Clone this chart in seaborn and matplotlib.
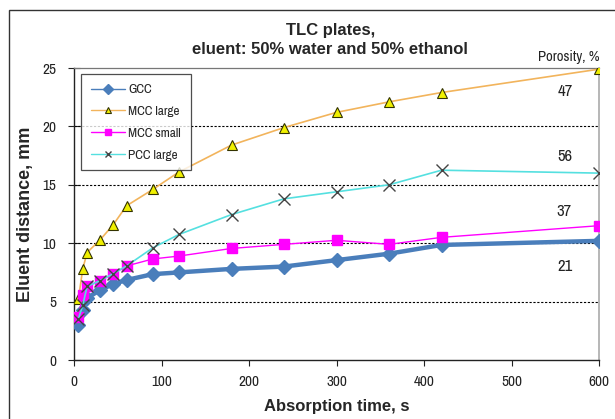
import matplotlib
matplotlib.use("Agg")
import matplotlib.pyplot as plt
import seaborn as sns
import pandas as pd
from matplotlib.patches import Rectangle

# Absorption times (s) and eluent distances (mm) for each plate type
time_s = [5, 10, 15, 30, 45, 60, 90, 120, 180, 240, 300, 360, 420, 600]
gcc = [3.0, 4.3, 5.3, 6.0, 6.5, 6.85, 7.35, 7.5, 7.8, 8.0, 8.55, 9.1, 9.85, 10.2]
mcc_large = [5.2, 7.8, 9.2, 10.3, 11.6, 13.2, 14.6, 16.1, 18.4, 19.9, 21.2, 22.1, 22.9, 24.9]
mcc_small = [3.7, 5.6, 6.3, 6.8, 7.4, 8.05, 8.65, 8.9, 9.55, 9.9, 10.25, 9.9, 10.5, 11.5]
pcc_large = [3.5, 4.7, 6.3, 6.8, 7.4, 8.05, 9.6, 10.75, 12.45, 13.8, 14.4, 15.0, 16.25, 16.0]

series_names = ["GCC", "MCC large", "MCC small", "PCC large"]
porosity_labels = ["21", "47", "37", "56"]
porosity_pos = [(561, 8.0), (561, 23.0), (560, 12.7), (561, 17.4)]

sns.set_theme(style="white")
plt.rcParams["font.family"] = ["Liberation Sans", "DejaVu Sans"]
NARROW = ["Archivo Narrow", "DejaVu Sans"]

df = pd.DataFrame({
    "time": time_s * 4,
    "dist": gcc + mcc_large + mcc_small + pcc_large,
    "plate": [n for n in series_names for _ in time_s],
})

fig = plt.figure(figsize=(6.15, 4.19), dpi=100)
fig.patch.set_facecolor("white")
# chart frame
fig.add_artist(Rectangle((9 / 615, -0.1), 1.2, 1 - 10 / 419 + 0.1,
                         transform=fig.transFigure, fill=False,
                         edgecolor="#333333", linewidth=1.0))

ax = fig.add_axes([74 / 615, 1 - 360 / 419, (599 - 74) / 615, (360 - 68) / 419])

styles = {
    "GCC": dict(color="#4a7ebb", lw=3.2, marker="D", ms=7, mfc="#4a7ebb", mec="#4a7ebb", mew=1),
    "MCC large": dict(color="#f2b45c", lw=1.2, marker="^", ms=7, mfc="#f0f000", mec="#333300", mew=0.8),
    "MCC small": dict(color="#ff00ff", lw=1.0, marker="s", ms=7, mfc="#ff00ff", mec="#ff00ff", mew=1),
    "PCC large": dict(color="#55e0e0", lw=1.2, marker="x", ms=8, mfc="#444444", mec="#444444", mew=1.0),
}

for name in series_names:
    st = styles[name]
    sub = df[df["plate"] == name]
    sns.lineplot(data=sub, x="time", y="dist", ax=ax, color=st["color"], linewidth=st["lw"],
                 marker=st["marker"], markersize=st["ms"], markerfacecolor=st["mfc"],
                 markeredgecolor=st["mec"], markeredgewidth=st["mew"], label=name,
                 zorder=3)

ax.set_xlim(0, 600)
ax.set_ylim(0, 25)
ax.set_xticks(range(0, 601, 100))
ax.set_yticks(range(0, 26, 5))
for yv in [5, 10, 15, 20]:
    ax.axhline(yv, color="black", lw=0.8, ls=(0, (2, 1.5)), zorder=1)

for s in ["left", "bottom"]:
    ax.spines[s].set_color("#222222")
    ax.spines[s].set_linewidth(1.0)
ax.spines["top"].set_color("#777777")
ax.spines["top"].set_linewidth(0.9)
ax.spines["right"].set_color("#aaaaaa")
ax.spines["right"].set_linewidth(1.2)

ax.tick_params(axis="both", labelsize=11, colors="#222222", length=4, width=0.8)
ax.tick_params(axis="x", direction="out", bottom=True, pad=7)
ax.tick_params(axis="y", direction="inout", left=True, length=8, pad=9)
for lab in ax.get_xticklabels() + ax.get_yticklabels():
    lab.set_family(NARROW)

ax.set_xlabel("Absorption time, s", fontsize=12, fontweight="bold", labelpad=7)
ax.set_ylabel("Eluent distance, mm", fontsize=13, fontweight="bold", labelpad=6)

fig.text(0.537, 1 - 30 / 419, "TLC plates,", ha="center", va="center", fontsize=12, fontweight="bold")
fig.text(0.537, 1 - 50 / 419, "eluent: 50% water and 50% ethanol", ha="center", va="center",
         fontsize=12, fontweight="bold")

ax.text(566, 25.95, "Porosity, %", ha="center", va="center", fontsize=10.5, color="#222222",
        family=NARROW)
for lab, (xv, yv) in zip(porosity_labels, porosity_pos):
    ax.text(xv, yv, lab, ha="center", va="center", fontsize=12, color="#222222", family=NARROW)

leg = ax.legend(loc="upper left", bbox_to_anchor=(7 / 525, (360 - 74) / 292),
                borderaxespad=0.0, frameon=True, fancybox=False, edgecolor="#222222",
                handlelength=2.6, borderpad=0.75, labelspacing=0.8, handletextpad=0.25,
                prop={"family": NARROW, "size": 9.5})
leg.get_frame().set_linewidth(0.9)
for h in leg.legend_handles:
    h.set_linewidth(1.0)
    h.set_markersize(5)

fig.savefig("out.png", dpi=100)
